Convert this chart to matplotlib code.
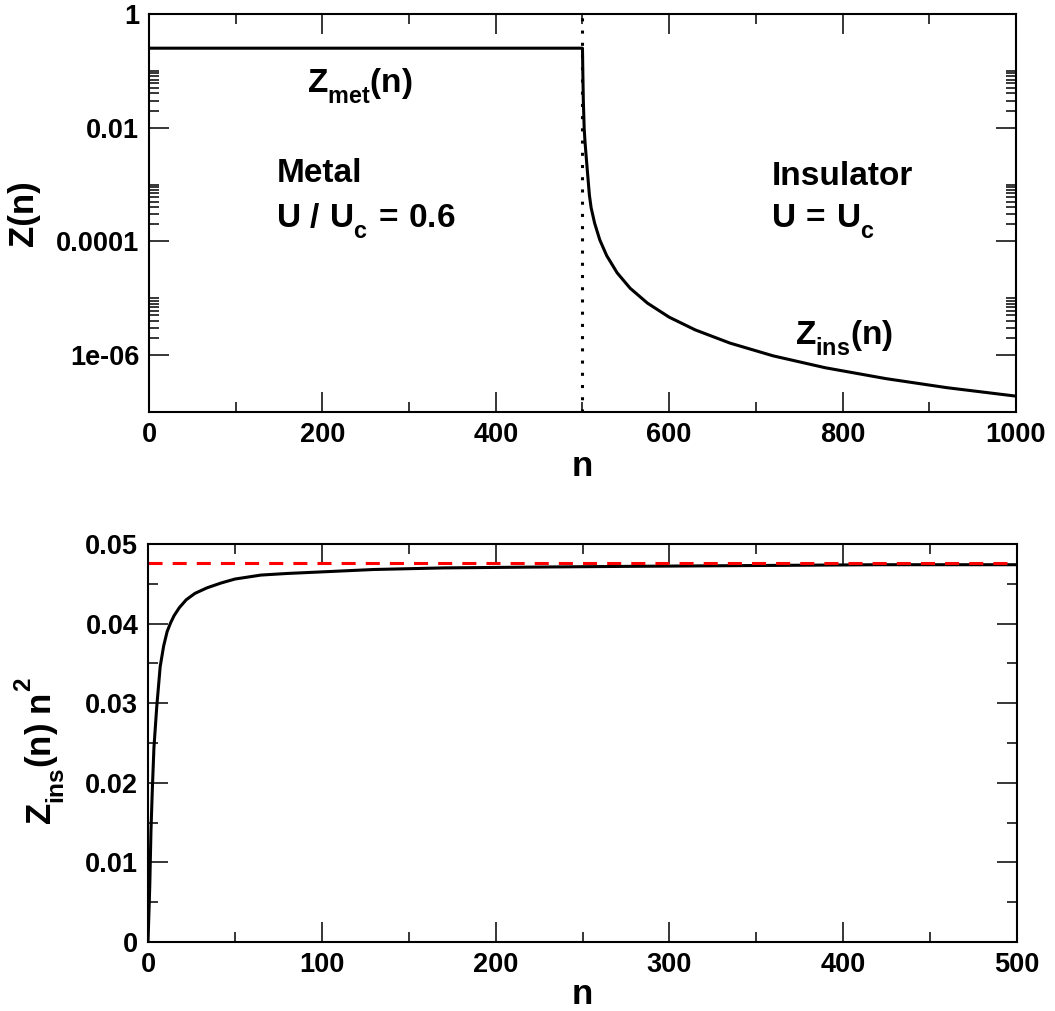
import numpy as np
import matplotlib
matplotlib.use('Agg')
import matplotlib.pyplot as plt
from matplotlib.ticker import FixedLocator, NullFormatter

plt.rcParams['font.family'] = ['Liberation Sans', 'DejaVu Sans']
plt.rcParams['font.weight'] = 'bold'
plt.rcParams['mathtext.fontset'] = 'custom'
plt.rcParams['mathtext.rm'] = 'Liberation Sans:bold'
plt.rcParams['mathtext.it'] = 'Liberation Sans:bold'
plt.rcParams['mathtext.bf'] = 'Liberation Sans:bold'
plt.rcParams['mathtext.sf'] = 'Liberation Sans:bold'

# deeper subscripts / higher superscripts, like the original plot
try:
    import matplotlib._mathtext as _mt
    _mt.FontConstantsBase.sub1 = 0.65
    _mt.FontConstantsBase.sup1 = 1.1
except Exception:
    pass

# top panel: Z(n), metal plateau then insulator decay (log scale)
n_top = [0, 500, 500.5, 501, 502, 503, 504, 506, 508, 510, 514, 520, 528, 540,
         555, 575, 600, 630, 670, 720, 780, 850, 920, 1000]
z_top = [0.25, 0.25, 0.08, 0.03, 0.0095, 0.0055, 0.0035, 0.0015, 6.5e-4, 3.9e-4,
         2.1e-4, 1.06e-4, 5.6e-5, 2.8e-5, 1.5e-5, 8.2e-6, 4.65e-6, 2.78e-6,
         1.63e-6, 9.7e-7, 6.0e-7, 3.86e-7, 2.68e-7, 1.9e-7]
n_split = 500

# bottom panel: Z_ins(n) n^2
n_ins = [0, 1, 1.7, 2.5, 3.4, 5, 7, 9, 11, 13, 15, 18, 22, 27, 34, 42, 50,
         65, 80, 100, 130, 170, 220, 280, 350, 420, 500]
zn2_ins = [0, 0.007, 0.014, 0.0193, 0.0244, 0.0295, 0.0346, 0.0372, 0.039,
           0.0401, 0.041, 0.042, 0.043, 0.0438, 0.0445, 0.0451, 0.0456, 0.0461,
           0.0463, 0.0465, 0.0468, 0.047, 0.0471, 0.0472, 0.0473, 0.0474, 0.0474]
zn2_limit = 0.0476

top_yticks = [1e-6, 1e-4, 1e-2, 1]
top_yticklabels = ['1e-06', '0.0001', '0.01', '1']
bot_yticks = [0, 0.01, 0.02, 0.03, 0.04, 0.05]
bot_yticklabels = ['0', '0.01', '0.02', '0.03', '0.04', '0.05']


def style_axes(ax):
    for sp in ax.spines.values():
        sp.set_linewidth(1.5)
    ax.tick_params(which='both', direction='in', top=True, right=True, width=1.1)
    ax.tick_params(which='major', length=14.5, labelsize=19.5, pad=7)
    ax.tick_params(which='minor', length=7.2)


fig = plt.figure(figsize=(10.55, 10.11), dpi=100)
ax1 = fig.add_axes([0.1412, 0.5925, 0.8218, 0.3937])
ax2 = fig.add_axes([0.1403, 0.0682, 0.8237, 0.3937])

# ---- top panel
ax1.plot(n_top, z_top, color='k', lw=2.2)
ax1.axvline(n_split, color='k', lw=2.2, linestyle=(0, (1, 3)))
ax1.set_yscale('log')
ax1.set_xlim(0, 1000)
ax1.set_ylim(1e-7, 1)
ax1.set_xticks(np.arange(0, 1001, 200))
ax1.set_xticks(np.arange(100, 1000, 200), minor=True)
ax1.yaxis.set_major_locator(FixedLocator(top_yticks))
ax1.set_yticklabels(top_yticklabels)
ax1.yaxis.set_minor_locator(FixedLocator([k * 10.0**j for j in (-6, -4, -2) for k in range(2, 11)]))
ax1.yaxis.set_minor_formatter(NullFormatter())
style_axes(ax1)
ax1.set_xlabel('n', fontsize=25, fontweight='bold', labelpad=2)
ax1.set_ylabel('Z(n)', fontsize=25, fontweight='bold')
ax1.yaxis.set_label_coords(-0.126, 0.5)

ax1.text(182, 0.0427, r'$Z_{met}(n)$', fontsize=24, ha='left', va='baseline')
ax1.text(147, 1.1e-3, 'Metal', fontsize=24, fontweight='bold', ha='left', va='baseline')
ax1.text(147, 1.78e-4, r'$U\ /\ U_c\,=\,0.6$', fontsize=24, ha='left', va='baseline')
ax1.text(718, 1.0e-3, 'Insulator', fontsize=24, fontweight='bold', ha='left', va='baseline')
ax1.text(718, 1.78e-4, r'$U\,=\,U_c$', fontsize=24, ha='left', va='baseline')
ax1.text(745, 1.55e-6, r'$Z_{ins}(n)$', fontsize=24, ha='left', va='baseline')

# ---- bottom panel
ax2.plot(n_ins, zn2_ins, color='k', lw=2.2)
ax2.axhline(zn2_limit, color='red', lw=2.2, linestyle=(0, (4.6, 3.3)))
ax2.set_xlim(0, 500)
ax2.set_ylim(0, 0.05)
ax2.set_xticks(np.arange(0, 501, 100))
ax2.set_xticks(np.arange(50, 500, 100), minor=True)
ax2.set_yticks(bot_yticks)
ax2.set_yticklabels(bot_yticklabels)
ax2.set_yticks(np.arange(0.005, 0.05, 0.01), minor=True)
style_axes(ax2)
ax2.set_xlabel('n', fontsize=25, fontweight='bold', labelpad=0)
ax2.set_ylabel(r'$Z_{ins}(n)\;n^2$', fontsize=25)
ax2.yaxis.set_label_coords(-0.093, 0.48)

fig.savefig('out.png', dpi=100)
